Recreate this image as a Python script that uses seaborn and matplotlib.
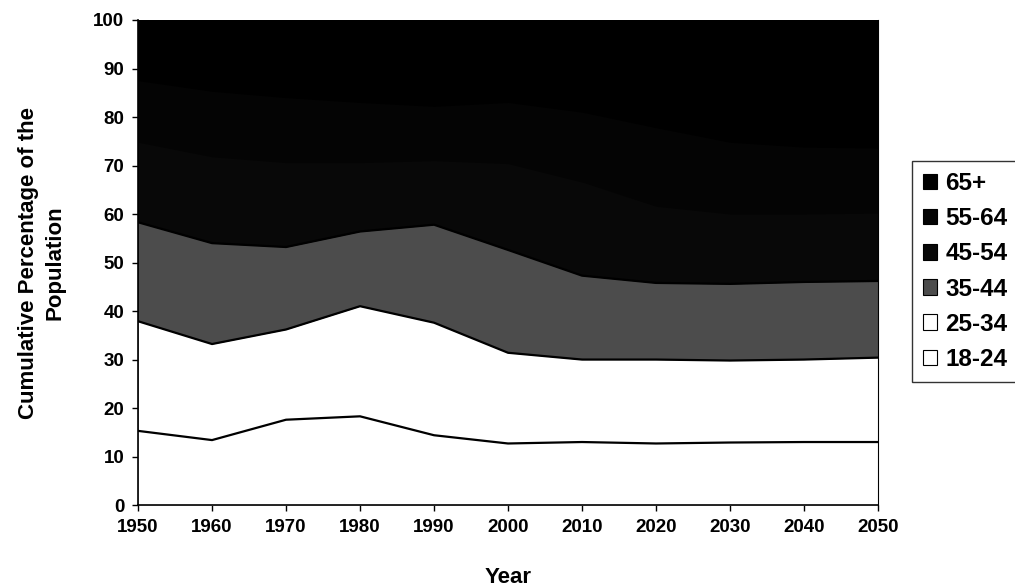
import numpy as np
import pandas as pd
import matplotlib
matplotlib.use("Agg")
import matplotlib.pyplot as plt
import seaborn as sns
from matplotlib.patches import Patch

# cumulative percentage of the adult population (top edge of each band)
years = [1950, 1960, 1970, 1980, 1990, 2000, 2010, 2020, 2030, 2040, 2050]
top_18_24 = [15.3, 13.4, 17.6, 18.3, 14.4, 12.7, 13.0, 12.7, 12.9, 13.0, 13.0]
top_25_34 = [37.9, 33.2, 36.2, 41.0, 37.6, 31.4, 30.0, 30.0, 29.8, 30.0, 30.4]
top_35_44 = [58.3, 54.0, 53.2, 56.4, 57.8, 52.6, 47.3, 45.8, 45.6, 46.0, 46.2]
top_45_54 = [74.8, 71.8, 70.6, 70.6, 71.0, 70.4, 66.6, 61.6, 60.0, 60.0, 60.2]
top_55_64 = [87.5, 85.3, 84.0, 83.0, 82.2, 83.0, 81.0, 77.8, 74.8, 73.8, 73.6]
top_65 = [100] * 11

groups = ["18-24", "25-34", "35-44", "45-54", "55-64", "65+"]
colors = ["#ffffff", "#ffffff", "#4c4c4c", "#080808", "#040404", "#000000"]

df = pd.DataFrame({"year": years, "18-24": top_18_24, "25-34": top_25_34,
                   "35-44": top_35_44, "45-54": top_45_54, "55-64": top_55_64,
                   "65+": top_65})

sns.set_theme(style="ticks")
plt.rcParams["font.family"] = ["Liberation Sans", "DejaVu Sans"]
plt.rcParams["font.weight"] = "bold"
plt.rcParams["text.color"] = "black"
plt.rcParams["axes.labelcolor"] = "black"
plt.rcParams["xtick.color"] = "black"
plt.rcParams["ytick.color"] = "black"

fig = plt.figure(figsize=(10.15, 5.88), dpi=100)
ax = fig.add_axes([0.136, 0.141, 0.729, 0.825])

# paint each band from zero upward, topmost first, so neighbouring dark bands have no seams
for g, c in zip(groups[::-1], colors[::-1]):
    ax.fill_between(df["year"], 0, df[g], color=c, linewidth=0)

# outline of the white bands
for g in ["18-24", "25-34", "35-44"]:
    sns.lineplot(data=df, x="year", y=g, ax=ax, color="black", linewidth=1.6)

ax.set_xlim(1950, 2050)
ax.set_ylim(0, 100)
ax.set_xticks(years)
ax.set_yticks(range(0, 101, 10))
ax.tick_params(axis="both", labelsize=13.5, length=4, width=1, pad=6)
for lab in ax.get_xticklabels() + ax.get_yticklabels():
    lab.set_fontweight("bold")
ax.set_xlabel("Year", fontsize=16, fontweight="bold", labelpad=22)
ax.set_ylabel("Cumulative Percentage of the\nPopulation", fontsize=16,
              fontweight="bold", labelpad=20, linespacing=1.3)
for s in ["left", "bottom", "right"]:
    ax.spines[s].set_color("black")
    ax.spines[s].set_linewidth(1.2)
ax.spines["right"].set_linewidth(0.8)
ax.spines["top"].set_visible(False)

handles = [Patch(facecolor=c, edgecolor="black", linewidth=0.8, label=g)
           for g, c in zip(groups, colors)][::-1]
leg = fig.legend(handles=handles, loc="upper left", bbox_to_anchor=(0.899, 0.726),
                 fontsize=17.5, frameon=True, fancybox=False, edgecolor="black",
                 handlelength=0.55, handleheight=0.6, handletextpad=0.35,
                 labelspacing=0.5, borderpad=0.45, borderaxespad=0)
leg.get_frame().set_linewidth(1)
for t in leg.get_texts():
    t.set_fontweight("bold")

fig.savefig("out.png", dpi=100)
